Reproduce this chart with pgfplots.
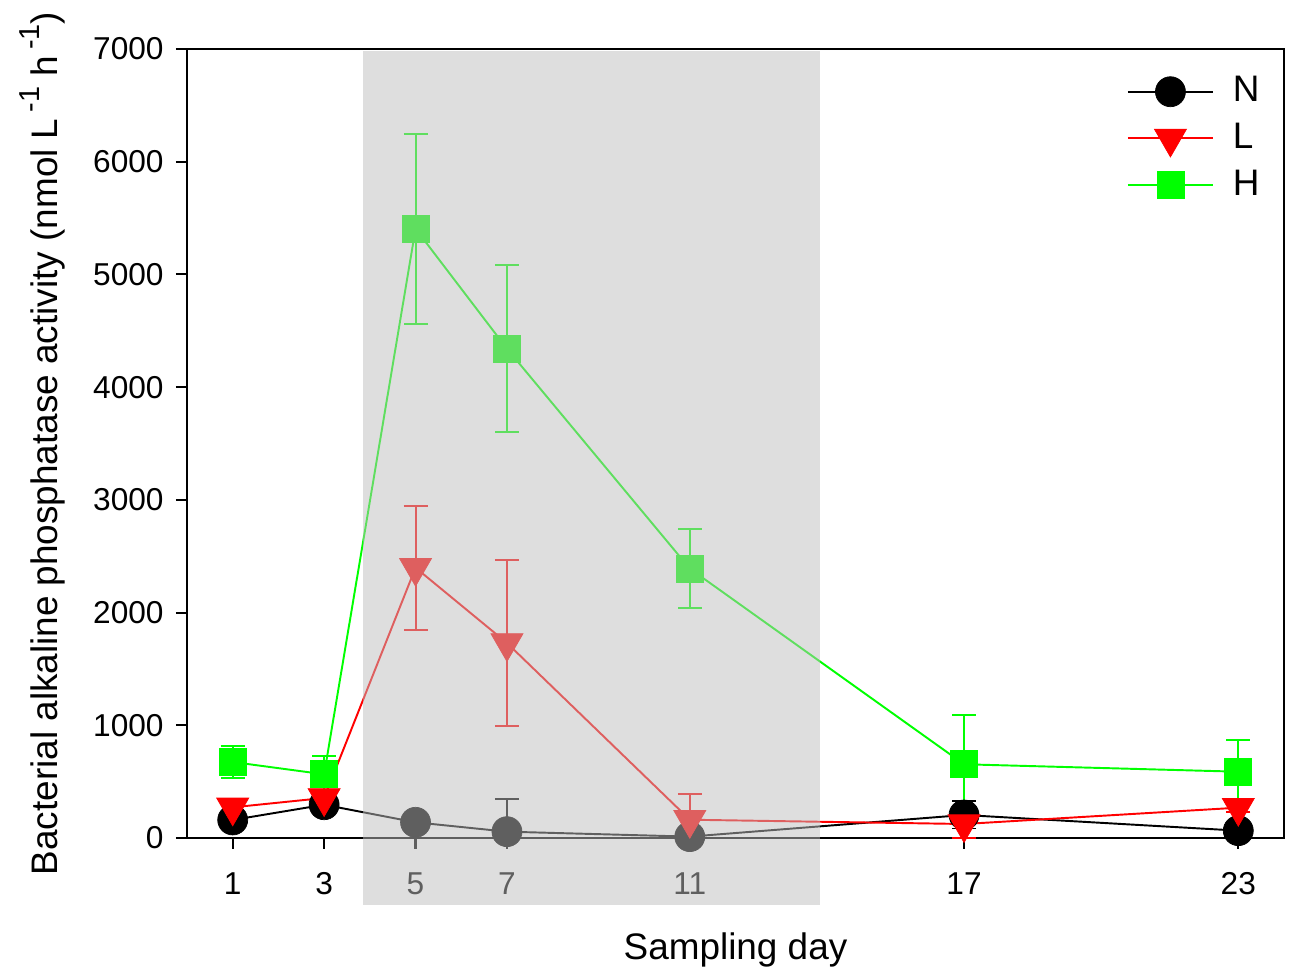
\documentclass[border=0pt]{standalone}
\usepackage{pgfplots}
\pgfplotsset{compat=1.18}
\usepackage{pgfplotstable}
\usepackage{fontspec}
\setmainfont{Liberation Sans}
\definecolor{hgreen}{RGB}{0,255,0}
\definecolor{lred}{RGB}{255,0,0}
\definecolor{shade}{RGB}{190,190,190}
\newcommand\sppow[1]{\,\raisebox{0.48em}{\fontsize{8.2}{9}\selectfont #1}}

\pgfplotstableread{
x y ep em
1 160 40 40
3 295 45 45
5 139 40 40
7 56 287 56
11 12 20 12
17 204 120 120
23 65 30 30
}\tabN
\pgfplotstableread{
x y ep em
1 272 40 40
3 355 65 65
5 2398 550 550
7 1730 737 737
11 162 228 162
17 124 140 124
23 269 35 35
}\tabL
\pgfplotstableread{
x y ep em
1 674 145 145
3 565 160 160
5 5405 843 843
7 4341 740 740
11 2390 352 352
17 654 437 437
23 588 279 279
}\tabH

\begin{document}
\begin{tikzpicture}
\begin{axis}[name=ax, set layers, scale only axis,
  width=109.7mm, height=78.9mm,
  xmin=0, xmax=24, ymin=0, ymax=7000,
  xtick={1,3,5,7,11,17,23}, ytick={0,1000,...,7000},
  axis line style={line width=0.6pt},
  tick style={line width=0.6pt, black},
  tick align=outside, major tick length=1.1mm,
  xtick pos=bottom, ytick pos=left,
  clip=false,
  /pgf/number format/assume math mode=true,
  /pgf/number format/1000 sep={},
  ticklabel style={font=\fontsize{9}{10}\selectfont},
  xticklabel style={yshift=-1.1mm},
  label style={font=\fontsize{10.5}{12}\selectfont},
  xlabel={Sampling day},
  ylabel={Bacterial alkaline phosphatase activity (nmol L\sppow{-1} h\sppow{-1})},
  xlabel style={at={(axis description cs:0.5,-0.1546)},anchor=base},
  ylabel style={at={(axis description cs:-0.1185,0.5)},anchor=base},
  legend style={draw=none, fill=none, at={(axis description cs:0.8466,0.984)}, anchor=north west,
    font=\fontsize{10.5}{12}\selectfont, row sep=0.2mm,
    /tikz/every odd column/.append style={column sep=1.2mm}},
  legend cell align=left,
  legend image code/.code={\draw[mark repeat=2,mark phase=2,#1] plot coordinates {(0mm,0mm) (4.25mm,0mm) (8.5mm,0mm)};},
  error bars/y dir=both, error bars/y explicit,
  error bars/error bar style={line width=0.55pt},
  error bars/error mark options={rotate=90, mark size=1.2mm, line width=0.55pt},
]
\addplot[black, line width=0.55pt, mark=*, mark size=1.5mm, mark options={solid, fill=black, line width=0.2pt}]
  table[x=x, y=y, y error plus=ep, y error minus=em] {\tabN};
\addlegendentry{N}
\addplot[lred, line width=0.55pt, mark=triangle*, mark size=1.85mm, mark options={solid, rotate=180, fill=lred, line width=0.2pt}]
  table[x=x, y=y, y error plus=ep, y error minus=em] {\tabL};
\addlegendentry{L}
\addplot[hgreen, line width=0.55pt, mark=square*, mark size=1.35mm, mark options={solid, fill=hgreen, line width=0.2pt}]
  table[x=x, y=y, y error plus=ep, y error minus=em] {\tabH};
\addlegendentry{H}
\addplot[on layer=axis foreground, draw=none, fill=shade, fill opacity=0.5, forget plot, error bars/y dir=none]
  coordinates {(3.85,-594) (13.85,-594) (13.85,6985) (3.85,6985)} -- cycle;
\end{axis}
\pgfresetboundingbox
\path ([shift={(-18.7mm,-13mm)}]ax.south west) rectangle ([shift={(110.3mm,83.8mm)}]ax.south west);
\end{tikzpicture}
\end{document}
